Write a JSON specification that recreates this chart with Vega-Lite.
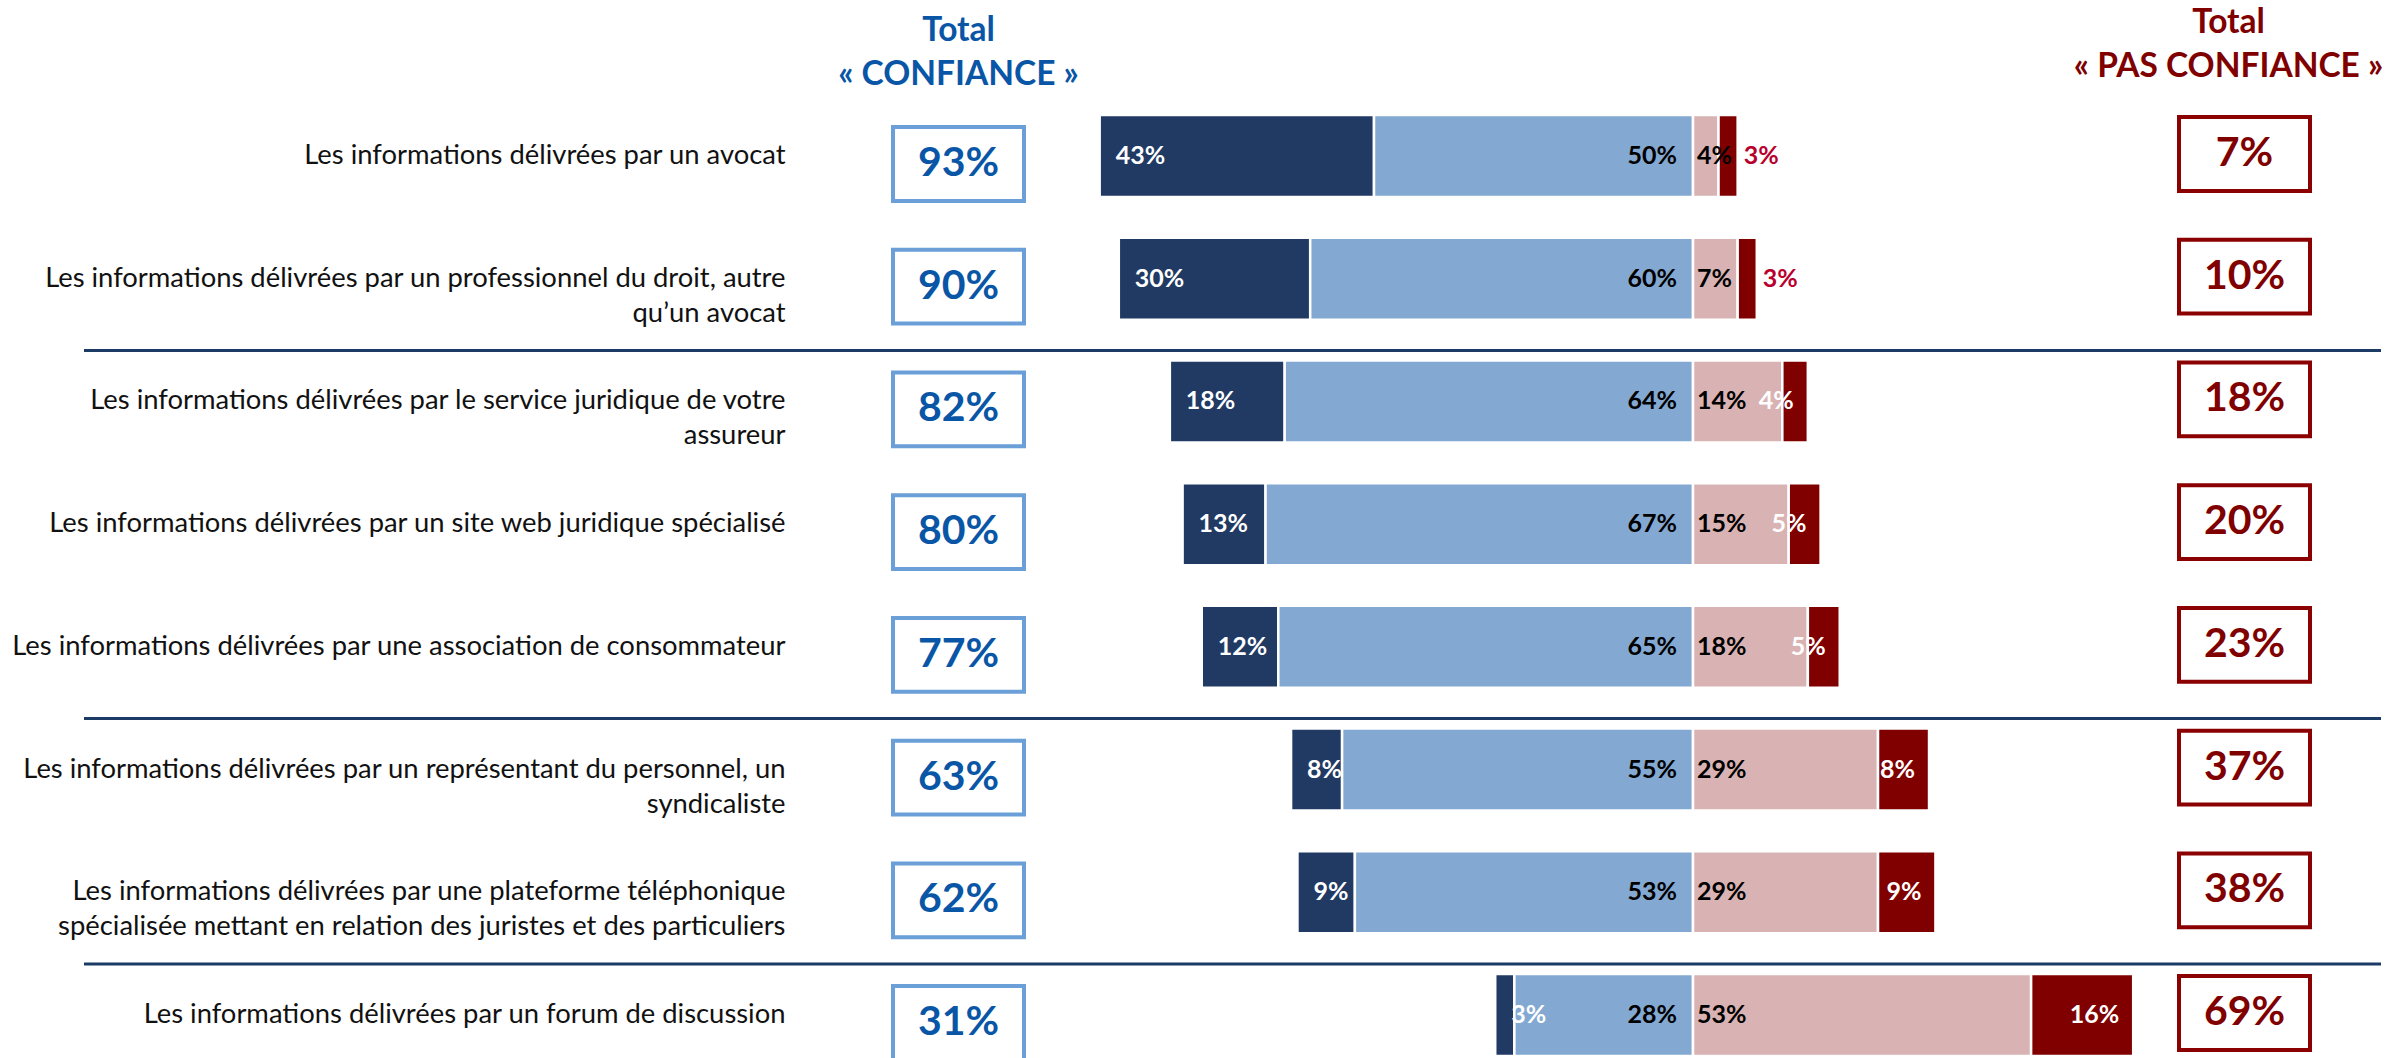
{
  "$schema": "https://vega.github.io/schema/vega-lite/v6.json",
  "background": "white",
  "padding": {"left": 11, "top": 6, "right": 0, "bottom": 0},
  "spacing": 0,
  "bounds": "flush",
  "config": {
    "view": {"stroke": null},
    "font": "Lato",
    "text": {"font": "Lato"}
  },
  "datasets": {
    "items": [
      {"item": "Les informations délivrées par un avocat", "Tout à fait confiance": 0.43, "Plutôt confiance": 0.50, "Plutôt pas confiance": 0.04, "Pas du tout confiance": 0.03, "Total confiance": 0.93, "Total pas confiance": 0.07},
      {"item": "Les informations délivrées par un professionnel du droit, autre\nqu’un avocat", "Tout à fait confiance": 0.30, "Plutôt confiance": 0.60, "Plutôt pas confiance": 0.07, "Pas du tout confiance": 0.03, "Total confiance": 0.90, "Total pas confiance": 0.10},
      {"item": "Les informations délivrées par le service juridique de votre\nassureur", "Tout à fait confiance": 0.18, "Plutôt confiance": 0.64, "Plutôt pas confiance": 0.14, "Pas du tout confiance": 0.04, "Total confiance": 0.82, "Total pas confiance": 0.18},
      {"item": "Les informations délivrées par un site web juridique spécialisé", "Tout à fait confiance": 0.13, "Plutôt confiance": 0.67, "Plutôt pas confiance": 0.15, "Pas du tout confiance": 0.05, "Total confiance": 0.80, "Total pas confiance": 0.20},
      {"item": "Les informations délivrées par une association de consommateur", "Tout à fait confiance": 0.12, "Plutôt confiance": 0.65, "Plutôt pas confiance": 0.18, "Pas du tout confiance": 0.05, "Total confiance": 0.77, "Total pas confiance": 0.23},
      {"item": "Les informations délivrées par un représentant du personnel, un\nsyndicaliste", "Tout à fait confiance": 0.08, "Plutôt confiance": 0.55, "Plutôt pas confiance": 0.29, "Pas du tout confiance": 0.08, "Total confiance": 0.63, "Total pas confiance": 0.37},
      {"item": "Les informations délivrées par une plateforme téléphonique\nspécialisée mettant en relation des juristes et des particuliers", "Tout à fait confiance": 0.09, "Plutôt confiance": 0.53, "Plutôt pas confiance": 0.29, "Pas du tout confiance": 0.09, "Total confiance": 0.62, "Total pas confiance": 0.38},
      {"item": "Les informations délivrées par un forum de discussion", "Tout à fait confiance": 0.03, "Plutôt confiance": 0.28, "Plutôt pas confiance": 0.53, "Pas du tout confiance": 0.16, "Total confiance": 0.31, "Total pas confiance": 0.69}
    ]
  },
  "hconcat": [
    {
      "width": 809, "height": 941,
      "data": {"name": "items"},
      "layer": [
        {
          "mark": {"type": "rule", "color": "#1B3A66", "strokeWidth": 3, "yOffset": -10},
          "encoding": {
            "y": {"field": "item", "type": "nominal", "sort": null, "title": null, "bandPosition": 0, "scale": {"type": "band", "paddingInner": 0.332, "paddingOuter": 0}, "axis": null},
            "strokeOpacity": {"condition": {"test": {"field": "item", "oneOf": ["Les informations délivrées par le service juridique de votre\nassureur", "Les informations délivrées par un représentant du personnel, un\nsyndicaliste", "Les informations délivrées par un forum de discussion"]}, "value": 1}, "value": 0}
          }
        }
      ]
    },
    {
      "width": 131, "height": 941,
      "data": {"name": "items"},
      "title": {"text": ["Total", "« CONFIANCE »"], "frame": "group", "anchor": "middle", "offset": -20.5, "baseline": "bottom", "fontSize": 33.5, "font": "Lato", "fontWeight": "bold", "color": "#0A56A6", "lineHeight": 44},
      "layer": [
        {
          "mark": {"type": "rect", "fill": "white", "stroke": "#6A9FD8", "strokeWidth": 4, "height": {"band": 0.9}, "yOffset": 8},
          "encoding": {
            "y": {"field": "item", "type": "nominal", "sort": null, "title": null, "scale": {"type": "band", "paddingInner": 0.332, "paddingOuter": 0},
              "axis": {"title": null, "domain": false, "ticks": false, "grid": false, "labelPadding": 108, "labelFont": "Lato", "labelFontSize": 27.4, "labelColor": "#111111", "labelLimit": 1000, "labelAlign": "right", "labelBaseline": "alphabetic", "labelOffset": 8, "labelLineHeight": 35, "labelExpr": "split(datum.label, '\\n')"}}
          }
        },
        {
          "mark": {"type": "text", "font": "Lato", "fontSize": 41, "fontWeight": "bold", "color": "#0A56A6", "baseline": "middle", "align": "center", "yOffset": 8},
          "encoding": {
            "y": {"field": "item", "type": "nominal", "sort": null, "title": null, "bandPosition": 0.5, "scale": {"type": "band", "paddingInner": 0.332, "paddingOuter": 0}},
            "text": {"field": "Total confiance", "type": "quantitative", "format": ".0%"}
          }
        },
        {
          "mark": {"type": "rule", "color": "#1B3A66", "strokeWidth": 3, "yOffset": -10},
          "encoding": {
            "y": {"field": "item", "type": "nominal", "sort": null, "title": null, "bandPosition": 0, "scale": {"type": "band", "paddingInner": 0.332, "paddingOuter": 0}},
            "strokeOpacity": {"condition": {"test": {"field": "item", "oneOf": ["Les informations délivrées par le service juridique de votre\nassureur", "Les informations délivrées par un représentant du personnel, un\nsyndicaliste", "Les informations délivrées par un forum de discussion"]}, "value": 1}, "value": 0}
          }
        }
      ]
    },
    {
      "width": 669, "height": 941,
      "data": {"name": "items"},
      "layer": [
        {
          "transform": [{"fold": ["Tout à fait confiance", "Plutôt confiance"], "as": ["categorie", "valeur"]}],
          "mark": {"type": "bar", "stroke": "white", "strokeWidth": 2.5},
          "encoding": {
            "y": {"field": "item", "type": "nominal", "sort": null, "title": null, "scale": {"type": "band", "paddingInner": 0.332, "paddingOuter": 0}, "axis": null},
            "x": {"field": "valeur", "type": "quantitative", "stack": "zero", "scale": {"domain": [0, 1.0486], "reverse": true, "nice": false, "zero": false}, "axis": null},
            "color": {"field": "categorie", "type": "nominal", "scale": {"domain": ["Tout à fait confiance", "Plutôt confiance", "Plutôt pas confiance", "Pas du tout confiance"], "range": ["#213A64", "#83A9D2", "#D9B3B3", "#800000"]}, "legend": null},
            "order": {"field": "categorie", "sort": "ascending"}
          }
        },
        {
          "mark": {"type": "text", "font": "Lato", "fontSize": 25, "fontWeight": "bold", "color": "white", "align": "left", "baseline": "middle", "dx": 16},
          "encoding": {
            "y": {"field": "item", "type": "nominal", "sort": null, "title": null, "bandPosition": 0.5, "scale": {"type": "band", "paddingInner": 0.332, "paddingOuter": 0}, "axis": null},
            "x": {"field": "Total confiance", "type": "quantitative", "scale": {"domain": [0, 1.0486], "reverse": true, "nice": false, "zero": false}, "axis": null},
            "text": {"field": "Tout à fait confiance", "type": "quantitative", "format": ".0%"}
          }
        },
        {
          "mark": {"type": "text", "font": "Lato", "fontSize": 25, "fontWeight": "bold", "color": "black", "align": "right", "baseline": "middle", "dx": -16},
          "encoding": {
            "y": {"field": "item", "type": "nominal", "sort": null, "title": null, "bandPosition": 0.5, "scale": {"type": "band", "paddingInner": 0.332, "paddingOuter": 0}, "axis": null},
            "x": {"datum": 0, "type": "quantitative", "scale": {"domain": [0, 1.0486], "reverse": true, "nice": false, "zero": false}, "axis": null},
            "text": {"field": "Plutôt confiance", "type": "quantitative", "format": ".0%"}
          }
        },
        {
          "mark": {"type": "rule", "color": "#1B3A66", "strokeWidth": 3, "yOffset": -10},
          "encoding": {
            "y": {"field": "item", "type": "nominal", "sort": null, "title": null, "bandPosition": 0, "scale": {"type": "band", "paddingInner": 0.332, "paddingOuter": 0}, "axis": null},
            "strokeOpacity": {"condition": {"test": {"field": "item", "oneOf": ["Les informations délivrées par le service juridique de votre\nassureur", "Les informations délivrées par un représentant du personnel, un\nsyndicaliste", "Les informations délivrées par un forum de discussion"]}, "value": 1}, "value": 0}
          }
        }
      ]
    },
    {
      "width": 486, "height": 941,
      "data": {"name": "items"},
      "layer": [
        {
          "transform": [{"fold": ["Plutôt pas confiance", "Pas du tout confiance"], "as": ["categorie", "valeur"]}],
          "mark": {"type": "bar", "stroke": "white", "strokeWidth": 2.5},
          "encoding": {
            "y": {"field": "item", "type": "nominal", "sort": null, "title": null, "scale": {"type": "band", "paddingInner": 0.332, "paddingOuter": 0}, "axis": null},
            "x": {"field": "valeur", "type": "quantitative", "stack": "zero", "scale": {"domain": [0, 0.7618], "nice": false, "zero": false}, "axis": null},
            "color": {"field": "categorie", "type": "nominal", "scale": {"domain": ["Tout à fait confiance", "Plutôt confiance", "Plutôt pas confiance", "Pas du tout confiance"], "range": ["#213A64", "#83A9D2", "#D9B3B3", "#800000"]}, "legend": null},
            "order": {"field": "categorie", "sort": "descending"}
          }
        },
        {
          "mark": {"type": "text", "font": "Lato", "fontSize": 25, "fontWeight": "bold", "color": "black", "align": "left", "baseline": "middle", "dx": 4},
          "encoding": {
            "y": {"field": "item", "type": "nominal", "sort": null, "title": null, "bandPosition": 0.5, "scale": {"type": "band", "paddingInner": 0.332, "paddingOuter": 0}, "axis": null},
            "x": {"datum": 0, "type": "quantitative", "scale": {"domain": [0, 0.7618], "nice": false, "zero": false}, "axis": null},
            "text": {"field": "Plutôt pas confiance", "type": "quantitative", "format": ".0%"}
          }
        },
        {
          "transform": [{"filter": {"field": "Pas du tout confiance", "gt": 0.035}}],
          "mark": {"type": "text", "font": "Lato", "fontSize": 25, "fontWeight": "bold", "color": "white", "align": "right", "baseline": "middle", "dx": -14},
          "encoding": {
            "y": {"field": "item", "type": "nominal", "sort": null, "title": null, "bandPosition": 0.5, "scale": {"type": "band", "paddingInner": 0.332, "paddingOuter": 0}, "axis": null},
            "x": {"field": "Total pas confiance", "type": "quantitative", "scale": {"domain": [0, 0.7618], "nice": false, "zero": false}, "axis": null},
            "text": {"field": "Pas du tout confiance", "type": "quantitative", "format": ".0%"}
          }
        },
        {
          "transform": [{"filter": {"field": "Pas du tout confiance", "lte": 0.035}}],
          "mark": {"type": "text", "font": "Lato", "fontSize": 25, "fontWeight": "bold", "color": "#B8002E", "align": "left", "baseline": "middle", "dx": 6},
          "encoding": {
            "y": {"field": "item", "type": "nominal", "sort": null, "title": null, "bandPosition": 0.5, "scale": {"type": "band", "paddingInner": 0.332, "paddingOuter": 0}, "axis": null},
            "x": {"field": "Total pas confiance", "type": "quantitative", "scale": {"domain": [0, 0.7618], "nice": false, "zero": false}, "axis": null},
            "text": {"field": "Pas du tout confiance", "type": "quantitative", "format": ".0%"}
          }
        },
        {
          "mark": {"type": "rule", "color": "#1B3A66", "strokeWidth": 3, "yOffset": -10},
          "encoding": {
            "y": {"field": "item", "type": "nominal", "sort": null, "title": null, "bandPosition": 0, "scale": {"type": "band", "paddingInner": 0.332, "paddingOuter": 0}, "axis": null},
            "strokeOpacity": {"condition": {"test": {"field": "item", "oneOf": ["Les informations délivrées par le service juridique de votre\nassureur", "Les informations délivrées par un représentant du personnel, un\nsyndicaliste", "Les informations délivrées par un forum de discussion"]}, "value": 1}, "value": 0}
          }
        }
      ]
    },
    {
      "width": 131, "height": 941,
      "data": {"name": "items"},
      "title": {"text": ["Total", "« PAS CONFIANCE »"], "frame": "group", "anchor": "middle", "dx": -16, "offset": -12.5, "baseline": "bottom", "fontSize": 33.5, "font": "Lato", "fontWeight": "bold", "color": "#800000", "lineHeight": 44},
      "layer": [
        {
          "mark": {"type": "rect", "fill": "white", "stroke": "#8B0000", "strokeWidth": 4, "height": {"band": 0.9}, "yOffset": -2},
          "encoding": {
            "y": {"field": "item", "type": "nominal", "sort": null, "title": null, "scale": {"type": "band", "paddingInner": 0.332, "paddingOuter": 0}, "axis": null}
          }
        },
        {
          "mark": {"type": "text", "font": "Lato", "fontSize": 41, "fontWeight": "bold", "color": "#800000", "baseline": "middle", "align": "center", "yOffset": -2},
          "encoding": {
            "y": {"field": "item", "type": "nominal", "sort": null, "title": null, "bandPosition": 0.5, "scale": {"type": "band", "paddingInner": 0.332, "paddingOuter": 0}, "axis": null},
            "text": {"field": "Total pas confiance", "type": "quantitative", "format": ".0%"}
          }
        },
        {
          "mark": {"type": "rule", "color": "#1B3A66", "strokeWidth": 3, "yOffset": -10},
          "encoding": {
            "y": {"field": "item", "type": "nominal", "sort": null, "title": null, "bandPosition": 0, "scale": {"type": "band", "paddingInner": 0.332, "paddingOuter": 0}, "axis": null},
            "strokeOpacity": {"condition": {"test": {"field": "item", "oneOf": ["Les informations délivrées par le service juridique de votre\nassureur", "Les informations délivrées par un représentant du personnel, un\nsyndicaliste", "Les informations délivrées par un forum de discussion"]}, "value": 1}, "value": 0}
          }
        }
      ]
    },
    {
      "width": 71, "height": 941,
      "data": {"name": "items"},
      "layer": [
        {
          "mark": {"type": "rule", "color": "#1B3A66", "strokeWidth": 3, "yOffset": -10},
          "encoding": {
            "y": {"field": "item", "type": "nominal", "sort": null, "title": null, "bandPosition": 0, "scale": {"type": "band", "paddingInner": 0.332, "paddingOuter": 0}, "axis": null},
            "strokeOpacity": {"condition": {"test": {"field": "item", "oneOf": ["Les informations délivrées par le service juridique de votre\nassureur", "Les informations délivrées par un représentant du personnel, un\nsyndicaliste", "Les informations délivrées par un forum de discussion"]}, "value": 1}, "value": 0}
          }
        }
      ]
    }
  ]
}
